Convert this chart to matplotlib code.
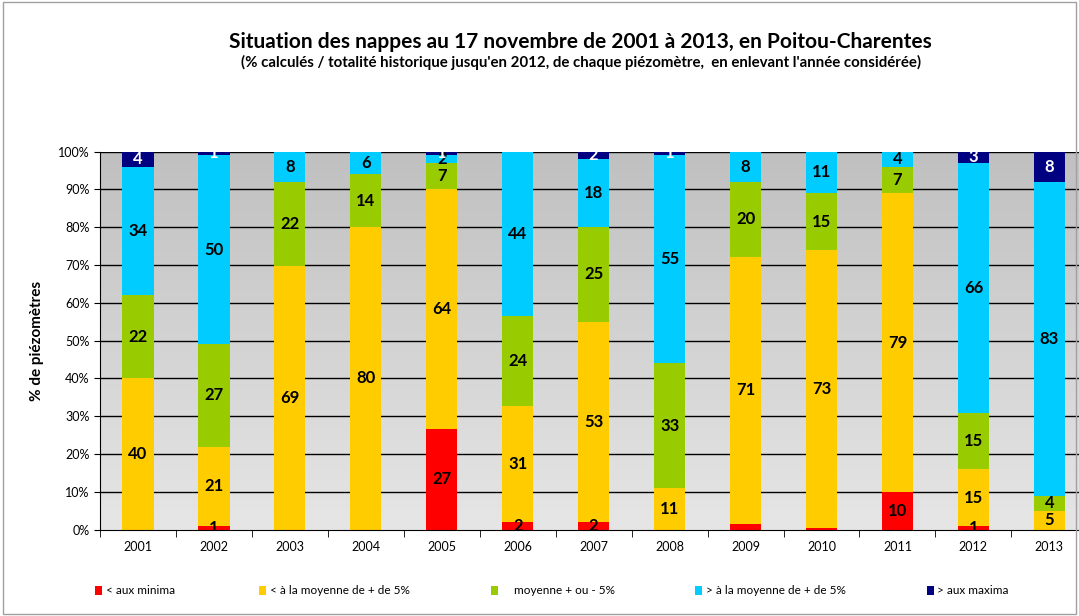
import numpy as np
import matplotlib
matplotlib.use("Agg")
import matplotlib.pyplot as plt
from matplotlib.patches import Patch, Rectangle

plt.rcParams["font.family"] = ["Lato", "DejaVu Sans"]

years = ["2001", "2002", "2003", "2004", "2005", "2006", "2007",
         "2008", "2009", "2010", "2011", "2012", "2013"]
minima = [0, 1, 0, 0, 27, 2, 2, 0, 1.6, 0.5, 10, 1, 0]
inf_moy = [40, 21, 69, 80, 64, 31, 53, 11, 71, 73, 79, 15, 5]
moyenne = [22, 27, 22, 14, 7, 24, 25, 33, 20, 15, 7, 15, 4]
sup_moy = [34, 50, 8, 6, 2, 44, 18, 55, 8, 11, 4, 66, 83]
maxima = [4, 1, 0, 0, 1, 0, 2, 1, 0, 0, 0, 3, 8]
# labels hidden for the tiny 2009 / 2010 minima segments
minima_shown = [False, True, False, False, True, True, True, False, False, False, True, True, False]

series = [minima, inf_moy, moyenne, sup_moy, maxima]
names = ["< aux minima", "< à la moyenne de + de 5%", "    moyenne + ou - 5%",
         "> à la moyenne de + de 5%", "> aux maxima"]
colors = ["#FF0000", "#FFCC00", "#99CC00", "#00CCFF", "#000080"]
legend_x = [0.088, 0.240, 0.455, 0.644, 0.859]

data = np.array(series, dtype=float)
pct = data / data.sum(axis=0) * 100

fig = plt.figure(figsize=(10.79, 6.16), dpi=100)
# plot area runs a little past the right edge, as in the original
ax = fig.add_axes([0.0927, 0.14, 0.915, 0.614])
x = np.arange(len(years))

# grey gradient background
grad = np.linspace(0, 1, 256).reshape(-1, 1)
cmap = matplotlib.colors.LinearSegmentedColormap.from_list("bg", ["#E6E6E6", "#C0C0C0"])
ax.imshow(grad, extent=[-0.5, len(years) - 0.5, 0, 100], origin="lower",
          cmap=cmap, aspect="auto", zorder=0)

for yv in range(10, 101, 10):
    ax.axhline(yv, color="black", lw=1, zorder=1)

bottom = np.zeros(len(years))
for i, (vals, col) in enumerate(zip(pct, colors)):
    ax.bar(x, vals, 0.41, bottom=bottom, color=col, zorder=2)
    for j, v in enumerate(vals):
        raw = data[i, j]
        show = raw > 0 and (i != 0 or minima_shown[j])
        if show:
            ax.text(x[j], bottom[j] + v / 2, "%d" % round(raw), ha="center", va="center",
                    fontsize=12, fontweight="bold",
                    color="white" if i == 4 else "black", zorder=3, clip_on=True)
    bottom += vals

ax.set_xlim(-0.5, len(years) - 0.5)
ax.set_ylim(0, 100)
ax.set_yticks(range(0, 101, 10))
ax.set_yticklabels(["%d%%" % v for v in range(0, 101, 10)], fontsize=9)
ax.set_xticks(x)
ax.set_xticklabels(years, fontsize=9)
ax.tick_params(axis="x", length=0, pad=8)
ax.set_xticks(np.arange(-0.5, len(years), 1), minor=True)
ax.tick_params(axis="x", which="minor", length=5, color="black")
ax.tick_params(axis="y", length=4)
for s in ["top", "right"]:
    ax.spines[s].set_visible(False)
ax.spines["left"].set_color("black")
ax.spines["bottom"].set_color("black")
ax.set_ylabel("% de piézomètres", fontsize=11, fontweight="bold", labelpad=10)

fig.text(0.538, 0.932, "Situation des nappes au 17 novembre de 2001 à 2013, en Poitou-Charentes",
         ha="center", va="center", fontsize=15, fontweight="bold")
fig.text(0.538, 0.898, "(% calculés / totalité historique jusqu'en 2012, de chaque piézomètre,  en enlevant l'année considérée)",
         ha="center", va="center", fontsize=10.8, fontweight="bold")

for name, col, lx in zip(names, colors, legend_x):
    leg = fig.legend([Patch(facecolor=col)], [name], loc="center left",
                     bbox_to_anchor=(lx, 0.041), frameon=False, fontsize=8.5,
                     handlelength=0.6, handleheight=0.8, handletextpad=0.3,
                     borderpad=0, borderaxespad=0)

fig.add_artist(Rectangle((0.003, 0.003), 0.994, 0.994, transform=fig.transFigure,
                         fill=False, edgecolor="#A0A0A0", lw=1))

fig.savefig("out.png", dpi=100)
